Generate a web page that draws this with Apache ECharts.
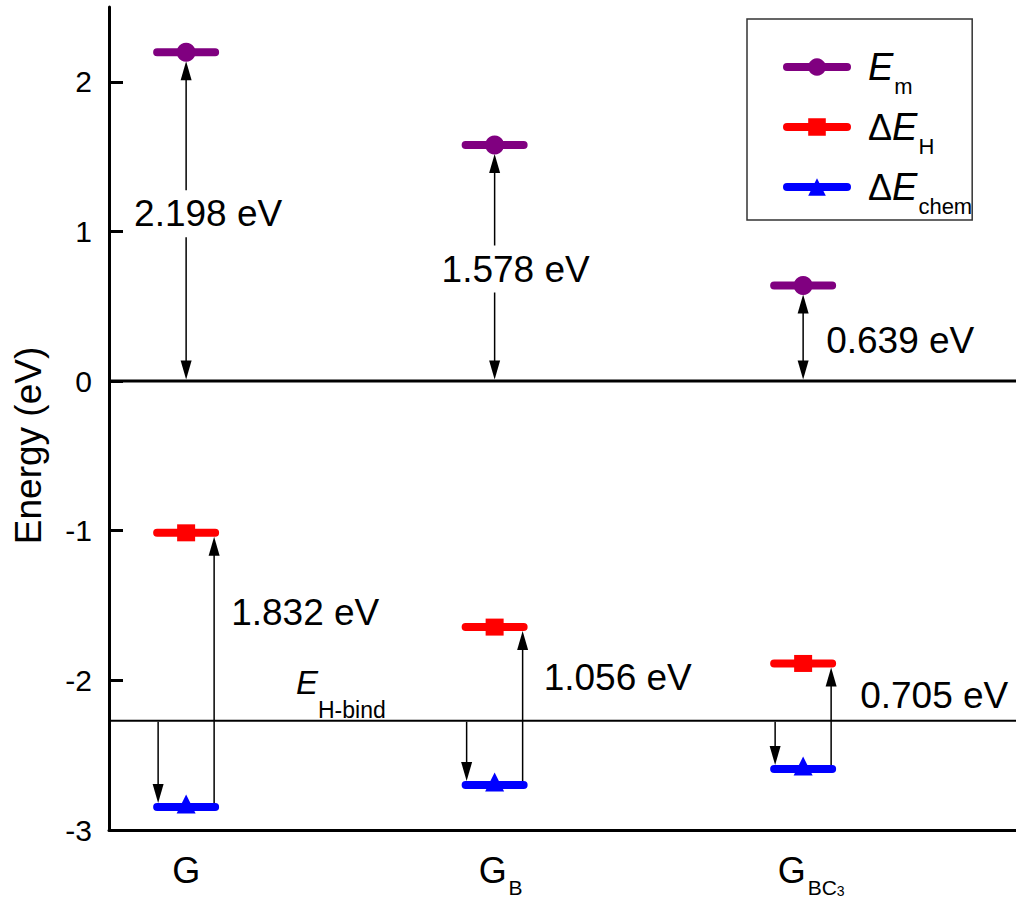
<!DOCTYPE html>
<html>
<head>
<meta charset="utf-8">
<script src="https://cdn.jsdelivr.net/npm/echarts@6/dist/echarts.min.js"></script>
<style>
  html, body { margin: 0; padding: 0; background: #ffffff; }
  #chart { width: 1016px; height: 900px; }
</style>
</head>
<body>
<div id="chart"></div>
<script>
// Substrates on the x axis (main letter + subscript, "3" is a second-level subscript)
const substrateMain = ['G', 'G', 'G'];
const substrateSub = ['', 'B', 'BC'];
const substrateSubSub = ['', '', '3'];

// Energies (eV)
const eMigration = [2.198, 1.578, 0.639];     // E_m
const deltaEH = [-1.014, -1.644, -1.887];      // ΔE_H
const deltaEChem = [-2.846, -2.700, -2.592];   // ΔE_chem
const eHBind = -2.27;                           // E_H-bind reference level

// Axis ticks
const yTicks = [-3, -2, -1, 0, 1, 2];
const xTicks = [0, 1, 2];

// ---- styling ----
const FONT = '"Liberation Sans", Arial, Helvetica, sans-serif';
const colors = { Em: '#800080', dEH: '#ff0000', dEchem: '#0000ff' };
const levelHalfWidth = 0.094;   // half length of a level bar, in x-axis units
const arrowDx = 28;             // px offset of the lower arrows from a level's centre
// label placement (px) relative to the arrow it annotates
const upperLabelShift = [[22, -3], [21, 6], [21, 7]];
const upperLabelLeft = [false, false, true];
const lowerLabelShift = [[43, 80], [47, 50], [55, 32]];
// leading spacer style per x label (keeps the main letter near the tick)
const xLabelSpacer = ['', '{sp1|}', '{sp2|}'];

function levelSeries(name, values, symbol, symbolSize, symbolOffset) {
  return values.map(function (v, i) {
    return {
      type: 'line',
      name: name,
      z: 3,
      silent: true,
      animation: false,
      symbol: symbol,
      symbolSize: symbolSize,
      symbolOffset: symbolOffset,
      showSymbol: true,
      lineStyle: { color: colors[name], width: 8, cap: 'round' },
      itemStyle: { color: colors[name] },
      data: [
        { value: [xTicks[i] - levelHalfWidth, v], symbol: 'none' },
        { value: [xTicks[i], v] },
        { value: [xTicks[i] + levelHalfWidth, v], symbol: 'none' }
      ]
    };
  });
}

// arrows: [x, fromY, toY, doubleHead, dxPx, tipInsetPx, startInsetPx]
const arrowData = [];
xTicks.forEach(function (x, i) {
  arrowData.push([x, 0, eMigration[i], 1, 0, 9, 1.5]);
  arrowData.push([x, deltaEChem[i], deltaEH[i], 0, arrowDx, 4, 0]);
  arrowData.push([x, eHBind, deltaEChem[i], 0, -arrowDx, 4, 1]);
});

// value labels: [x, anchorY, value, dxPx, dyPx, leftAligned, whiteBackground]
const labelData = [];
xTicks.forEach(function (x, i) {
  labelData.push([x, eMigration[i] / 2, eMigration[i],
    upperLabelShift[i][0], upperLabelShift[i][1], upperLabelLeft[i] ? 1 : 0, 1]);
  labelData.push([x, deltaEH[i], +(deltaEH[i] - deltaEChem[i]).toFixed(3),
    lowerLabelShift[i][0], lowerLabelShift[i][1], 1, 0]);
});

function renderArrow(params, api) {
  const x = api.value(0);
  const p0 = api.coord([x, api.value(1)]);
  const p1 = api.coord([x, api.value(2)]);
  const both = api.value(3) === 1;
  const px = p0[0] + api.value(4);
  const dir = p1[1] > p0[1] ? 1 : -1;
  const tip = p1[1] - dir * api.value(5);
  const start = p0[1] + dir * api.value(6);
  const L = 19, W = 5.5;
  const children = [{
    type: 'line',
    shape: { x1: px, y1: both ? start + dir * (L - 2) : start, x2: px, y2: tip - dir * (L - 2) },
    style: { stroke: '#000', lineWidth: 1.5 }
  }, {
    type: 'polygon',
    shape: { points: [[px, tip], [px - W, tip - dir * L], [px + W, tip - dir * L]] },
    style: { fill: '#000' }
  }];
  if (both) {
    children.push({
      type: 'polygon',
      shape: { points: [[px, start], [px - W, start + dir * L], [px + W, start + dir * L]] },
      style: { fill: '#000' }
    });
  }
  return { type: 'group', children: children };
}

function renderLabel(params, api) {
  const p = api.coord([api.value(0), api.value(1)]);
  const left = api.value(5) === 1;
  const bg = api.value(6) === 1;
  return {
    type: 'text',
    x: p[0] + api.value(3),
    y: p[1] + api.value(4),
    style: {
      text: api.value(2).toFixed(3) + ' eV',
      fill: '#000',
      font: '37px ' + FONT,
      align: left ? 'left' : 'center',
      verticalAlign: 'middle',
      backgroundColor: bg ? '#ffffff' : 'transparent',
      padding: [5, 2, 5, 2]
    }
  };
}

function renderRefLines(params, api) {
  const cs = params.coordSys;
  const y0 = api.coord([0, 0])[1];
  const yb = api.coord([0, eHBind])[1];
  return {
    type: 'group',
    children: [{
      type: 'line',
      shape: { x1: cs.x, y1: y0, x2: cs.x + cs.width, y2: y0 },
      style: { stroke: '#000', lineWidth: 3 }
    }, {
      type: 'line',
      shape: { x1: cs.x, y1: yb, x2: cs.x + cs.width, y2: yb },
      style: { stroke: '#000', lineWidth: 2 }
    }, {
      type: 'text',
      x: cs.x + 187,
      y: yb - 38,
      style: {
        text: '{e|E}{s|H-bind}',
        align: 'left',
        verticalAlign: 'middle',
        fill: '#000',
        rich: {
          e: { fontSize: 33, fontStyle: 'italic', fontFamily: FONT, lineHeight: 40, verticalAlign: 'middle', fill: '#000' },
          s: { fontSize: 23, fontFamily: FONT, lineHeight: 12, padding: [36, 0, 0, 0], verticalAlign: 'top', fill: '#000' }
        }
      }
    }]
  };
}

const legendText = {
  Em: '{gap|}{e|E}{s|m}',
  dEH: '{gap|}{d|Δ}{e|E}{s|H}',
  dEchem: '{gap|}{d|Δ}{e|E}{s|chem}'
};

const chart = echarts.init(document.getElementById('chart'), null, { renderer: 'svg' });

const option = {
  animation: false,
  backgroundColor: '#ffffff',
  textStyle: { fontFamily: FONT, color: '#000' },
  grid: { left: 109, right: 0, top: 7, bottom: 70, containLabel: false },
  xAxis: {
    type: 'value',
    min: -0.25,
    max: 2.69,
    splitLine: { show: false },
    axisTick: { show: false },
    axisLine: { show: true, onZero: false, lineStyle: { color: '#000', width: 3 } },
    axisLabel: {
      customValues: xTicks,
      margin: 18,
      formatter: function (v) {
        const i = Math.round(v);
        let s = xLabelSpacer[i] + '{g|' + substrateMain[i] + '}';
        if (substrateSub[i]) s += '{s|' + substrateSub[i] + '}';
        if (substrateSubSub[i]) s += '{ss|' + substrateSubSub[i] + '}';
        return s;
      },
      rich: {
        sp1: { width: 12, lineHeight: 44 },
        sp2: { width: 16, lineHeight: 44 },
        g: { fontSize: 36, fontFamily: FONT, color: '#000', lineHeight: 44, verticalAlign: 'middle' },
        s: { fontSize: 21, fontFamily: FONT, color: '#000', lineHeight: 10, verticalAlign: 'top', padding: [29, 0, 0, 2] },
        ss: { fontSize: 14, fontFamily: FONT, color: '#000', lineHeight: 10, verticalAlign: 'top', padding: [36, 0, 0, 0] }
      }
    }
  },
  yAxis: {
    type: 'value',
    min: -3,
    max: 2.5,
    name: 'Energy (eV)',
    nameLocation: 'middle',
    nameGap: 62,
    nameTextStyle: { fontSize: 37, fontFamily: FONT, color: '#000', padding: [0, 54, 0, 0] },
    splitLine: { show: false },
    axisLine: { show: true, onZero: false, lineStyle: { color: '#000', width: 3 } },
    axisTick: { show: true, inside: true, length: 14, customValues: yTicks, lineStyle: { color: '#000', width: 3 } },
    axisLabel: { customValues: yTicks, fontSize: 30, fontFamily: FONT, color: '#000', margin: 17 }
  },
  legend: {
    orient: 'vertical',
    left: 747,
    top: 19,
    data: ['Em', 'dEH', 'dEchem'],
    itemWidth: 60,
    itemHeight: 22,
    itemGap: 10,
    padding: [28, 0, 3, 36],
    borderColor: '#333',
    borderWidth: 1.5,
    selectedMode: false,
    lineStyle: { width: 8, cap: 'round' },
    formatter: function (name) { return legendText[name]; },
    textStyle: {
      rich: {
        gap: { width: 16, lineHeight: 40 },
        d: { fontSize: 36, fontFamily: FONT, color: '#000', lineHeight: 40, verticalAlign: 'middle' },
        e: { fontSize: 38, fontStyle: 'italic', fontFamily: FONT, color: '#000', lineHeight: 40, verticalAlign: 'middle' },
        s: { fontSize: 22, fontFamily: FONT, color: '#000', lineHeight: 12, verticalAlign: 'top', padding: [28, 0, 0, 1] }
      }
    }
  },
  series: [
    {
      type: 'custom',
      name: 'refLines',
      z: 1,
      silent: true,
      clip: false,
      renderItem: renderRefLines,
      data: [[0, 0]]
    },
    {
      type: 'custom',
      name: 'arrows',
      z: 2,
      silent: true,
      clip: false,
      renderItem: renderArrow,
      data: arrowData
    }
  ]
    .concat(levelSeries('Em', eMigration, 'circle', 19, [0, 0]))
    .concat(levelSeries('dEH', deltaEH, 'rect', [18, 17], [0, 0]))
    .concat(levelSeries('dEchem', deltaEChem, 'triangle', [19, 19], [0, -3]))
    .concat([{
      type: 'custom',
      name: 'valueLabels',
      z: 5,
      silent: true,
      clip: false,
      renderItem: renderLabel,
      data: labelData
    }])
};

chart.setOption(option);
</script>
</body>
</html>
